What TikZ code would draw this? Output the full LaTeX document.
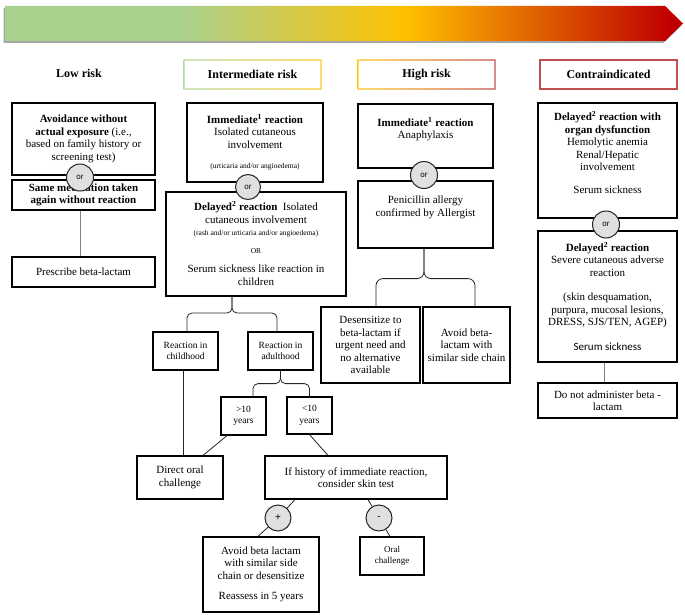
\documentclass[tikz,border=0pt]{standalone}
\usepackage{fontspec}
\setmainfont{Liberation Serif}
\newfontfamily\orfont{Liberation Sans}
\newfontfamily\calfont{Carlito}
\definecolor{rgreen}{HTML}{A9D18E}
\definecolor{rgold}{HTML}{FFC000}
\definecolor{rred}{HTML}{C00000}
\definecolor{bred}{HTML}{C0504D}
\pgfdeclarehorizontalshading{riskbar}{100bp}{color(0bp)=(rgreen); color(38bp)=(rgreen); color(54.5bp)=(rgold); color(74bp)=(rred); color(100bp)=(rred)}
\newcommand{\mysmall}{\fontsize{7.5}{9}\selectfont}
\tikzset{
  bx/.style={draw, line width=1.2pt, align=center, inner sep=1pt, font=\fontsize{11}{12.5}\selectfont},
  orc/.style={circle, draw=black!85, fill=black!12, line width=1pt, minimum size=27pt, inner sep=0pt, font=\orfont\fontsize{8}{9}\selectfont},
  pmc/.style={circle, draw=black!85, fill=black!12, line width=1pt, minimum size=26pt, inner sep=0pt, font=\orfont\fontsize{10}{11}\selectfont},
  ln/.style={line width=0.8pt, draw=black!85},
  gln/.style={line width=1pt, draw=black!50},
  brc/.style={line width=0.8pt, draw=black!85, rounded corners=5pt},
  hdr/.style={font=\bfseries\fontsize{12}{14}\selectfont}
}
\begin{document}
\begin{tikzpicture}[x=1pt,y=-1pt]
\useasboundingbox (0,0) rectangle (685,615);
% top risk arrow
\begin{scope}[shift={(-1.5,2)}]
\fill[black!35] (5,6) -- (665,6) -- (683,23.5) -- (665,41) -- (5,41) -- cycle;
\end{scope}
\shade[shading=riskbar] (5,6) -- (665,6) -- (683,23.5) -- (665,41) -- (5,41) -- cycle;

% headers
\node[hdr] (hlow) at (79,73) {Low risk};
\shade[left color=rgreen!85, right color=rgold!85, even odd rule] (183.4,59.4) rectangle (321.6,89.6) (184.6,60.6) rectangle (320.4,88.4);
\node[hdr] (hint) at (252.5,74.5) {Intermediate risk};
\shade[left color=rgold!90, right color=bred, even odd rule] (357.4,59.4) rectangle (495.6,89.6) (358.6,60.6) rectangle (494.4,88.4);
\node[hdr] (hhigh) at (426.5,74.5) {High risk};
\draw[bred, line width=1.2pt] (540,60) rectangle (677,89);
\node[hdr] (hcon) at (608.5,74.5) {Contraindicated};

% Low risk column
\node[bx, minimum width=143pt, minimum height=72pt] (av) at (83.5,139) {\textbf{Avoidance without}\\ \textbf{actual exposure} (i.e.,\\ based on family history or\\ screening test)};
\node[bx, minimum width=143pt, minimum height=30pt] (same) at (83.5,195) {\textbf{Same medication taken}\\ \textbf{again without reaction}};
\node[orc] (or1) at (80,177.5) {or};
\node[bx, minimum width=143pt, minimum height=30pt] (presc) at (83.5,272) {Prescribe beta-lactam};
\draw[gln] ([xshift=-3.5pt]same.south) -- ([xshift=-3.5pt]presc.north);

% Intermediate risk column
\node[bx, minimum width=136pt, minimum height=79pt] (imm) at (255,142.5) {\textbf{Immediate\textsuperscript{1} reaction}\\ Isolated cutaneous\\ involvement\\[8pt] {\mysmall (urticaria and/or angioedema)}};
\node[bx, minimum width=180pt, minimum height=104pt] (del) at (256,244) {\\[-4pt]\textbf{Delayed\textsuperscript{2} reaction}\ \ Isolated\\ cutaneous involvement\\ {\mysmall (rash and/or urticaria and/or angioedema)}\\[5pt] {\mysmall OR}\\[7pt] Serum sickness like reaction in\\ children};
\node[orc, minimum size=25pt] (or2) at (248,187) {or};
\node[bx, font=\fontsize{9.5}{11.5}\selectfont, minimum width=65pt, minimum height=38pt] (child) at (185.5,351) {Reaction in\\ childhood};
\node[bx, font=\fontsize{9.5}{11.5}\selectfont, minimum width=65pt, minimum height=38pt] (adult) at (280.5,351) {Reaction in\\ adulthood};
\coordinate (b1) at (232,296);
\draw[brc] (b1) -- ++(0,17) -| ([xshift=1.5pt]child.north);
\draw[brc] (b1) -- ++(0,17) -| ([xshift=-3.5pt]adult.north);
\node[bx, font=\fontsize{9.5}{11.5}\selectfont, minimum width=45pt, minimum height=38pt] (gt10) at (243.5,416) {>10\\ years};
\node[bx, font=\fontsize{9.5}{11.5}\selectfont, minimum width=45pt, minimum height=37pt] (lt10) at (309.5,415.5) {<10\\ years};
\draw[brc] (adult.south) -- ++(0,13) -| ([xshift=9.5pt]gt10.north);
\draw[brc] (adult.south) -- ++(0,13) -| (lt10.north);
\node[bx, minimum width=86pt, minimum height=43pt] (direct) at (180,477.5) {Direct oral\\ challenge};
\node[bx, minimum width=182pt, minimum height=43pt] (ifh) at (356,477.5) {If history of immediate reaction,\\ consider skin test};
\draw[ln] ([xshift=-2.5pt]child.south) -- ([xshift=3pt]direct.north);
\draw[ln] ([xshift=-16.5pt]gt10.south) -- ([xshift=23pt]direct.north);
\draw[ln] (lt10.south) -- ([xshift=-28pt]ifh.north);
\node[pmc] (plus) at (278,518) {+};
\node[pmc] (minus) at (379,518) {-};
\node[bx, minimum width=116pt, minimum height=75pt] (avoid2) at (261,574.5) {Avoid beta lactam\\ with similar side\\ chain or desensitize\\[8pt] Reassess in 5 years};
\node[bx, font=\fontsize{9}{11}\selectfont, minimum width=64pt, minimum height=38pt] (oral) at (392,556) {Oral\\ challenge};
\draw[ln] ([xshift=-61pt]ifh.south) -- (plus);
\draw[ln] (plus) -- ([xshift=-3pt]avoid2.north);
\draw[ln] ([xshift=12pt]ifh.south) -- (minus);
\draw[ln] (minus) -- ([xshift=-2pt]oral.north);

% High risk column
\node[bx, minimum width=135pt, minimum height=64pt] (ana) at (425.5,136) {\textbf{Immediate\textsuperscript{1} reaction}\\ Anaphylaxis\\ \strut};
\node[bx, minimum width=135pt, minimum height=67pt] (pen) at (425.5,214.5) {Penicillin allergy\\ confirmed by Allergist\\ \strut};
\node[orc] (or3) at (424,175) {or};
\node[bx, minimum width=99pt, minimum height=76pt] (des) at (370.5,345) {Desensitize to\\ beta-lactam if\\ urgent need and\\ no alternative\\ available};
\node[bx, minimum width=87pt, minimum height=76pt] (avb) at (466.5,345) {Avoid beta-\\ lactam with\\ similar side chain};
\draw[brc, rounded corners=7pt] ([xshift=-1.5pt]pen.south) -- ++(0,30) -| ([xshift=5.5pt]des.north);
\draw[brc, rounded corners=7pt] ([xshift=-1.5pt]pen.south) -- ++(0,30) -| ([xshift=8.5pt]avb.north);

% Contraindicated column
\node[bx, minimum width=139pt, minimum height=115pt] (c1) at (607.5,160.5) {\textbf{Delayed\textsuperscript{2} reaction with}\\ \textbf{organ dysfunction}\\ Hemolytic anemia\\ Renal/Hepatic\\ involvement\\[10pt] Serum sickness\\ \strut};
\node[bx, minimum width=139pt, minimum height=131pt] (c2) at (607.5,296.5) {\textbf{Delayed\textsuperscript{2} reaction}\\ Severe cutaneous adverse\\ reaction\\[12pt] (skin desquamation,\\ purpura, mucosal lesions,\\ DRESS, SJS/TEN, AGEP)\\[12pt] {\calfont Serum sickness}};
\node[orc] (or4) at (606,224.5) {or};
\node[bx, minimum width=139pt, minimum height=35pt] (dn) at (607.5,400.5) {Do not administer beta -\\ lactam};
\draw[gln, line width=1.5pt] ([xshift=-3pt]c2.south) -- ([xshift=-3pt]dn.north);
\end{tikzpicture}
\end{document}
